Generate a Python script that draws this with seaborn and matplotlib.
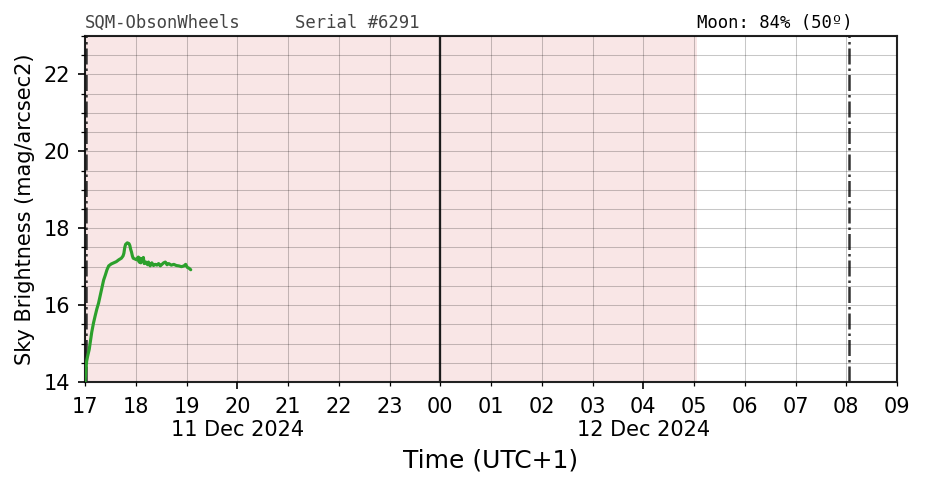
import numpy as np
import pandas as pd
import matplotlib
matplotlib.use("Agg")
import matplotlib.pyplot as plt
import matplotlib.transforms as mtransforms
import seaborn as sns

# ---------------- data ----------------
obs_times = ["17:00", "17:01", "17:02", "17:03", "17:05", "17:06", "17:08", "17:10",
             "17:12", "17:14", "17:16", "17:18", "17:20", "17:22", "17:24", "17:26",
             "17:28", "17:31", "17:34", "17:37", "17:40", "17:43", "17:45", "17:46",
             "17:47", "17:48", "17:50", "17:52", "17:53", "17:54", "17:55", "17:56",
             "17:57", "17:59", "18:01", "18:03", "18:04", "18:05", "18:06", "18:07",
             "18:08", "18:09", "18:10", "18:12", "18:14", "18:15", "18:17", "18:19",
             "18:21", "18:23", "18:25", "18:27", "18:29", "18:31", "18:33", "18:35",
             "18:37", "18:39", "18:42", "18:45", "18:48", "18:51", "18:54", "18:57",
             "18:59", "19:01", "19:03", "19:05"]
sky_brightness = [14.00, 14.30, 14.55, 14.66, 14.85, 15.00, 15.30, 15.53,
                  15.72, 15.90, 16.05, 16.25, 16.45, 16.65, 16.78, 16.92,
                  17.02, 17.07, 17.10, 17.13, 17.18, 17.22, 17.28, 17.35,
                  17.50, 17.58, 17.62, 17.60, 17.55, 17.45, 17.38, 17.28,
                  17.22, 17.20, 17.18, 17.25, 17.12, 17.22, 17.10, 17.20,
                  17.14, 17.24, 17.08, 17.12, 17.05, 17.12, 17.02, 17.10,
                  17.03, 17.06, 17.04, 17.08, 17.02, 17.06, 17.10, 17.12,
                  17.05, 17.08, 17.04, 17.06, 17.03, 17.02, 17.00, 17.02,
                  17.06, 16.98, 16.96, 16.92]
obs_date = "2024-12-11"

x_start = "2024-12-11 17:00"
x_end = "2024-12-12 09:00"
night_start = "2024-12-11 16:00"
night_end = "2024-12-12 05:04"
midnight = "2024-12-12 00:00"
twilight_lines = ["2024-12-11 17:01", "2024-12-12 08:03"]

hour_ticks = pd.date_range(x_start, x_end, freq="h")
hour_labels = ["17", "18", "19", "20", "21", "22", "23", "00", "01",
               "02", "03", "04", "05", "06", "07", "08", "09"]
major_ticks = ["2024-12-11 20:00", "2024-12-12 04:00"]
date_labels = ["11 Dec 2024", "12 Dec 2024"]

y_limits = (14, 23)
y_major = [14, 16, 18, 20, 22]

site_name = "SQM-ObsonWheels"
serial_text = "Serial #6291"
moon_text = "Moon: 84% (50º)"

df = pd.DataFrame({
    "time": pd.to_datetime([f"{obs_date} {t}" for t in obs_times]),
    "mag": sky_brightness,
})

# ---------------- plot ----------------
sns.set_style("white")
plt.rcParams["font.family"] = ["DejaVu Sans"]
plt.rcParams["text.color"] = "black"
plt.rcParams["axes.labelcolor"] = "black"
plt.rcParams["xtick.color"] = "black"
plt.rcParams["ytick.color"] = "black"

fig = plt.figure(figsize=(926 / 150, 488 / 150), dpi=150)
ax = fig.add_axes([85 / 926, 1 - 382 / 488, 812 / 926, 346 / 488])

ax.axvspan(pd.Timestamp(night_start), pd.Timestamp(night_end),
           color="#f9e6e6", zorder=0, lw=0)

sns.lineplot(data=df, x="time", y="mag", ax=ax, color="#2ca02c",
             lw=1.5, zorder=3)

ax.axvline(pd.Timestamp(midnight), color="#222222", lw=1.1, zorder=2)
for t in twilight_lines:
    ax.axvline(pd.Timestamp(t), color="#333333", lw=1.2, ls="-.", zorder=2)

ax.set_xlim(pd.Timestamp(x_start), pd.Timestamp(x_end))
ax.set_ylim(*y_limits)

major_idx = [hour_ticks.get_loc(pd.Timestamp(t)) for t in major_ticks]
ax.set_xticks(pd.to_datetime(major_ticks),
              labels=[hour_labels[i] for i in major_idx])
ax.set_xticks(hour_ticks, labels=hour_labels, minor=True)
ax.set_yticks(y_major)
ax.set_yticks(np.arange(y_limits[0], y_limits[1] + 0.01, 0.5), minor=True)

ax.tick_params(axis="both", which="major", length=3.5, width=0.8,
               labelsize=10, color="black", labelcolor="black",
               direction="out", bottom=True, left=True)
ax.tick_params(axis="both", which="minor", length=2, width=0.6,
               labelsize=10, color="black", labelcolor="black",
               direction="out", bottom=True, left=True)
ax.tick_params(axis="x", which="minor", pad=5.0)
ax.tick_params(axis="x", which="major", pad=3.5)

# date labels under the major ticks
trans = mtransforms.blended_transform_factory(ax.transData, ax.transAxes)
for t, lab in zip(major_ticks, date_labels):
    ax.text(pd.Timestamp(t), -0.139, lab, transform=trans, ha="center",
            va="center", fontsize=10, color="black")

ax.grid(True, which="both", color="black", alpha=0.22, lw=0.5, zorder=1)
ax.set_axisbelow(False)

for sp in ax.spines.values():
    sp.set_color("#222222")
    sp.set_linewidth(1.0)
    sp.set_visible(True)

ax.set_xlabel("Time (UTC+1)", fontsize=12)
ax.xaxis.set_label_coords(0.5, -0.228)
ax.xaxis.label.set_va("center")
ax.set_ylabel("Sky Brightness (mag/arcsec2)", fontsize=10, labelpad=4)

ax.text(0.0, 1.012, site_name, transform=ax.transAxes, ha="left", va="bottom",
        family="DejaVu Sans Mono", fontsize=8.3, color="#444444")
ax.text(0.2586, 1.012, serial_text, transform=ax.transAxes, ha="left",
        va="bottom", family="DejaVu Sans Mono", fontsize=8.3, color="#444444")
ax.text(0.7537, 1.012, moon_text, transform=ax.transAxes, ha="left",
        va="bottom", family="DejaVu Sans Mono", fontsize=8.3, color="black")

fig.savefig("out.png", dpi=150)
